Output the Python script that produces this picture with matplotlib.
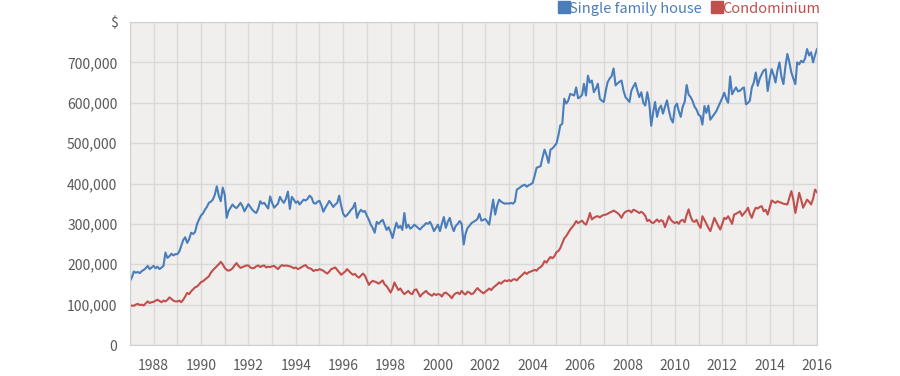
import numpy as np
import pandas as pd
import matplotlib
matplotlib.use("Agg")
import matplotlib.pyplot as plt
import matplotlib.dates as mdates
from matplotlib.ticker import FuncFormatter
from matplotlib.lines import Line2D

plt.rcParams['font.family'] = ['Noto Sans CJK JP', 'DejaVu Sans']

# monthly median prices, thousands of $, Jan 1987 .. Jan 2016
house = [
    158, 168, 182, 179, 181, 178, 183, 186, 190, 196, 188, 192,  # 1987
    196, 190, 194, 188, 192, 196, 229, 216, 220, 226, 222, 225,  # 1988
    225, 232, 245, 260, 267, 253, 262, 278, 275, 280, 300, 311,  # 1989
    321, 326, 335, 342, 352, 355, 360, 372, 393, 370, 356, 390,  # 1990
    372, 315, 332, 340, 348, 342, 339, 345, 352, 344, 331, 340,  # 1991
    349, 342, 335, 330, 327, 338, 356, 350, 352, 345, 338, 368,  # 1992
    352, 340, 345, 350, 367, 358, 352, 362, 380, 337, 367, 360,  # 1993
    352, 356, 348, 354, 360, 358, 362, 370, 365, 352, 350, 355,  # 1994
    357, 345, 330, 340, 348, 357, 350, 342, 348, 352, 370, 345,  # 1995
    325, 318, 322, 328, 335, 340, 352, 315, 328, 335, 330, 332,  # 1996
    320, 310, 298, 290, 278, 305, 300, 306, 310, 298, 285, 292,  # 1997
    280, 265, 285, 303, 290, 295, 285, 327, 290, 298, 288, 292,  # 1998
    298, 294, 290, 286, 292, 296, 302, 300, 305, 295, 282, 290,  # 1999
    298, 282, 300, 317, 290, 305, 315, 295, 282, 295, 300, 307,  # 2000
    300, 249, 275, 290, 295, 302, 305, 308, 312, 325, 308, 310,  # 2001
    312, 305, 298, 330, 360, 323, 345, 360, 355, 352, 350, 351,  # 2002
    350, 352, 350, 355, 385, 388, 392, 395, 397, 392, 396, 398,  # 2003
    402, 420, 439, 441, 443, 465, 484, 470, 451, 484, 487, 493,  # 2004
    499, 520, 544, 548, 610, 598, 605, 622, 620, 618, 638, 611,  # 2005
    614, 620, 647, 618, 667, 650, 655, 626, 635, 647, 610, 605,  # 2006
    602, 630, 651, 660, 666, 685, 643, 648, 652, 655, 630, 614,  # 2007
    608, 602, 630, 640, 649, 630, 614, 626, 600, 593, 626, 600,  # 2008
    543, 577, 602, 565, 585, 593, 573, 590, 606, 580, 560, 551,  # 2009
    590, 598, 580, 565, 590, 602, 644, 620, 614, 604, 590, 583,  # 2010
    570, 567, 546, 592, 575, 593, 558, 565, 572, 579, 590, 600,  # 2011
    612, 625, 610, 600, 665, 621, 630, 638, 628, 630, 635, 638,  # 2012
    596, 600, 605, 638, 650, 675, 642, 660, 671, 680, 683, 629,  # 2013
    660, 683, 670, 650, 680, 700, 665, 646, 690, 721, 700, 675,  # 2014
    660, 646, 700, 695, 704, 700, 710, 733, 717, 725, 700, 718,  # 2015
    733,                                                          # 2016
]

condo = [
    96, 98, 97, 100, 102, 99, 100, 98, 103, 108, 104, 106,        # 1987
    107, 110, 112, 109, 106, 110, 108, 112, 118, 114, 110, 108,   # 1988
    108, 110, 106, 112, 120, 129, 126, 133, 138, 143, 145, 150,   # 1989
    156, 158, 162, 166, 170, 179, 185, 190, 195, 200, 206, 200,   # 1990
    191, 186, 184, 186, 190, 197, 203, 196, 191, 193, 195, 197,   # 1991
    197, 192, 190, 191, 195, 197, 193, 196, 197, 192, 194, 193,   # 1992
    195, 196, 192, 188, 194, 198, 196, 197, 196, 195, 193, 190,   # 1993
    192, 188, 190, 193, 196, 198, 192, 190, 188, 183, 186, 185,   # 1994
    188, 186, 184, 180, 177, 182, 188, 190, 192, 186, 180, 174,   # 1995
    178, 182, 188, 183, 178, 174, 176, 170, 167, 172, 177, 172,   # 1996
    160, 149, 155, 159, 157, 155, 152, 156, 160, 150, 146, 138,   # 1997
    130, 140, 155, 145, 136, 140, 132, 126, 130, 134, 128, 126,   # 1998
    136, 138, 130, 120, 126, 130, 134, 128, 125, 122, 127, 124,   # 1999
    126, 125, 120, 128, 130, 126, 122, 116, 124, 128, 130, 126,   # 2000
    134, 128, 125, 132, 130, 126, 128, 135, 141, 136, 132, 128,   # 2001
    132, 136, 140, 136, 142, 146, 150, 155, 152, 157, 160, 158,   # 2002
    161, 158, 162, 163, 160, 166, 170, 175, 180, 176, 180, 182,   # 2003
    184, 186, 184, 190, 193, 198, 208, 204, 212, 218, 215, 220,   # 2004
    230, 233, 240, 252, 264, 270, 278, 286, 292, 298, 307, 302,   # 2005
    305, 308, 302, 298, 310, 327, 311, 315, 318, 319, 316, 320,   # 2006
    322, 323, 325, 328, 330, 333, 330, 327, 322, 315, 325, 330,   # 2007
    332, 333, 328, 335, 333, 330, 327, 330, 326, 320, 307, 310,   # 2008
    304, 302, 306, 311, 305, 309, 307, 292, 305, 319, 310, 305,   # 2009
    302, 305, 300, 308, 310, 304, 322, 336, 318, 307, 305, 310,   # 2010
    298, 290, 319, 310, 300, 290, 282, 298, 315, 305, 295, 286,   # 2011
    300, 315, 312, 319, 310, 300, 323, 325, 328, 331, 320, 326,   # 2012
    332, 340, 325, 315, 330, 340, 338, 342, 344, 331, 335, 323,   # 2013
    340, 358, 355, 352, 356, 354, 352, 350, 349, 348, 365, 381,   # 2014
    360, 327, 350, 377, 360, 340, 350, 360, 355, 348, 362, 385,   # 2015
    378,                                                          # 2016
]

labels = ["Single family house", "Condominium"]
colors = ["#4a7ebb", "#c0504d"]

dates = pd.date_range("1987-01-01", periods=len(house), freq="MS")

fig = plt.figure(figsize=(9, 3.76), dpi=100)
ax = fig.add_axes([0.1444, 0.0824, 0.7634, 0.8591])
ax.set_facecolor("#f0efee")

ax.plot(dates, np.array(house) * 1000, color=colors[0], lw=1.5)
ax.plot(dates, np.array(condo) * 1000, color=colors[1], lw=1.5)

ax.set_ylim(0, 800000)
ax.set_yticks(range(0, 800001, 100000))
ax.yaxis.set_major_formatter(FuncFormatter(lambda v, p: "$" if v >= 800000 else f"{int(v):,}"))
ax.set_xlim(pd.Timestamp("1987-01-01"), pd.Timestamp("2016-01-01"))
ax.xaxis.set_major_locator(mdates.YearLocator(2))
ax.xaxis.set_minor_locator(mdates.YearLocator(1))
ax.xaxis.set_major_formatter(mdates.DateFormatter("%Y"))

ax.grid(True, which="both", color="#d9d9d9", lw=1)
ax.set_axisbelow(True)
for s in ax.spines.values():
    s.set_color("#d0d0d0")
ax.tick_params(which="both", length=0, colors="#595959", labelsize=10)
ax.tick_params(axis="x", pad=10)
ax.tick_params(axis="y", pad=9)

handles = [Line2D([], [], marker="s", ls="", color=c, markersize=8) for c in colors]
leg = ax.legend(handles, labels, loc="lower right", bbox_to_anchor=(1.004, 1.02), ncol=2,
                frameon=False, handlelength=0.6, handletextpad=0.05, columnspacing=0.7,
                fontsize=10.5, borderaxespad=0, borderpad=0)
for t, c in zip(leg.get_texts(), colors):
    t.set_color(c)

fig.savefig("out.png", dpi=100)
